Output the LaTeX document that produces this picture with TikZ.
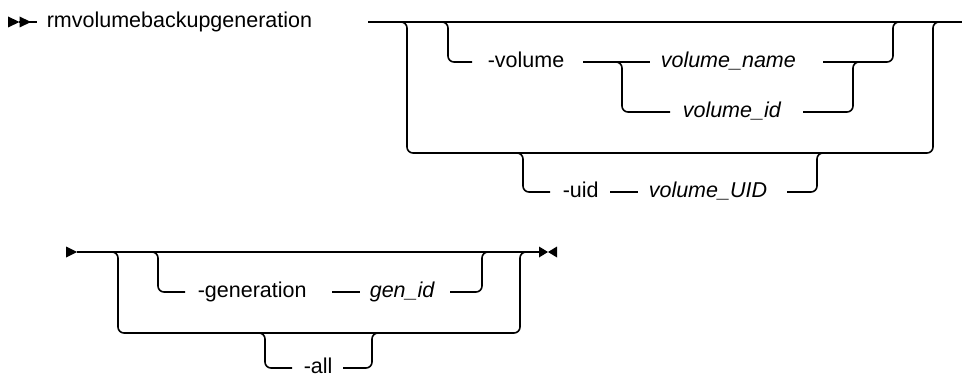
\documentclass[tikz,border=0pt]{standalone}
\usepackage{fontspec}
\setmainfont{Liberation Sans}
\begin{document}
\begin{tikzpicture}[x=1pt,y=-1pt,line width=1.6pt,
  rr/.style={rounded corners=6pt},
  kw/.style={anchor=base west,inner sep=0pt,yshift=-5.6pt,font=\fontsize{21.5}{24}\selectfont},
  var/.style={anchor=base west,inner sep=0pt,yshift=-5.6pt,font=\fontsize{21.5}{24}\selectfont\itshape},
  tip/.style={fill=black,draw=none}]
\useasboundingbox (0,0) rectangle (962,377);
% ---------- row 1 ----------
\fill[tip] (8,16.5) -- (8,27.5) -- (19.5,22) -- cycle;
\fill[tip] (19.5,16.5) -- (19.5,27.5) -- (31,22) -- cycle;
\coordinate (s0) at (19,22);
\coordinate (s1) at (37,22);
\draw (s0) -- (s1);
\node[kw] (cmd) at (46,22) {rmvolumebackupgeneration};
\coordinate (m0) at (368,22);
\coordinate (m1) at (962,22);
\draw (m0) -- (m1);
% outer optional bracket
\coordinate (o1) at (395,22);
\coordinate (o2) at (407,22);
\coordinate (o3) at (407,153);
\coordinate (o4) at (933,153);
\coordinate (o5) at (933,22);
\coordinate (o6) at (945,22);
\draw[rr] (o1) -- (o2) -- (o3) -- (o4) -- (o5) -- (o6);
% -volume branch
\node[kw] (vol) at (487,62) {-volume};
\coordinate (v1) at (436,22);
\coordinate (v2) at (448,22);
\coordinate (v3) at (448,62);
\coordinate (v4) at (472,62);
\draw[rr] (v1) -- (v2) -- (v3) -- (v4);
\node[var] (vname) at (660,62) {volume\_name};
\coordinate (v5) at (583,62);
\coordinate (v6) at (650,62);
\draw (v5) -- (v6);
\coordinate (v7) at (823,62);
\coordinate (v8) at (893,62);
\coordinate (v9) at (893,22);
\coordinate (v10) at (905,22);
\draw[rr] (v7) -- (v8) -- (v9) -- (v10);
% volume_id
\node[var] (vid) at (682,112) {volume\_id};
\coordinate (d1) at (610,62);
\coordinate (d2) at (622,62);
\coordinate (d3) at (622,112);
\coordinate (d4) at (670,112);
\draw[rr] (d1) -- (d2) -- (d3) -- (d4);
\coordinate (d5) at (803,112);
\coordinate (d6) at (853,112);
\coordinate (d7) at (853,62);
\coordinate (d8) at (865,62);
\draw[rr] (d5) -- (d6) -- (d7) -- (d8);
% -uid branch
\node[kw] (uid) at (562,192) {-uid};
\node[var] (vuid) at (648,192) {volume\_UID};
\coordinate (u1) at (511,153);
\coordinate (u2) at (523,153);
\coordinate (u3) at (523,192);
\coordinate (u4) at (550,192);
\draw[rr] (u1) -- (u2) -- (u3) -- (u4);
\coordinate (u5) at (610,192);
\coordinate (u6) at (638,192);
\draw (u5) -- (u6);
\coordinate (u7) at (787,192);
\coordinate (u8) at (817,192);
\coordinate (u9) at (817,153);
\coordinate (u10) at (829,153);
\draw[rr] (u7) -- (u8) -- (u9) -- (u10);
% ---------- row 2 ----------
\fill[tip] (66,246.5) -- (66,257.5) -- (77,252) -- cycle;
\coordinate (r0) at (77,252);
\coordinate (r1) at (540,252);
\draw (r0) -- (r1);
\fill[tip] (539,246.5) -- (539,257.5) -- (548,252) -- cycle;
\fill[tip] (557,246.5) -- (557,257.5) -- (548,252) -- cycle;
% outer bracket
\coordinate (p1) at (106,252);
\coordinate (p2) at (118,252);
\coordinate (p3) at (118,333);
\coordinate (p4) at (520,333);
\coordinate (p5) at (520,252);
\coordinate (p6) at (532,252);
\draw[rr] (p1) -- (p2) -- (p3) -- (p4) -- (p5) -- (p6);
% -generation
\node[kw] (gen) at (197,292) {-generation};
\node[var] (gid) at (369,292) {gen\_id};
\coordinate (g1) at (146,252);
\coordinate (g2) at (158,252);
\coordinate (g3) at (158,292);
\coordinate (g4) at (185,292);
\draw[rr] (g1) -- (g2) -- (g3) -- (g4);
\coordinate (g5) at (332,292);
\coordinate (g6) at (360,292);
\draw (g5) -- (g6);
\coordinate (g7) at (450,292);
\coordinate (g8) at (482,292);
\coordinate (g9) at (482,252);
\coordinate (g10) at (494,252);
\draw[rr] (g7) -- (g8) -- (g9) -- (g10);
% -all
\node[kw] (all) at (303,368) {-all};
\coordinate (a1) at (253,333);
\coordinate (a2) at (265,333);
\coordinate (a3) at (265,368);
\coordinate (a4) at (292,368);
\draw[rr] (a1) -- (a2) -- (a3) -- (a4);
\coordinate (a5) at (343,368);
\coordinate (a6) at (372,368);
\coordinate (a7) at (372,333);
\coordinate (a8) at (384,333);
\draw[rr] (a5) -- (a6) -- (a7) -- (a8);
\end{tikzpicture}
\end{document}
